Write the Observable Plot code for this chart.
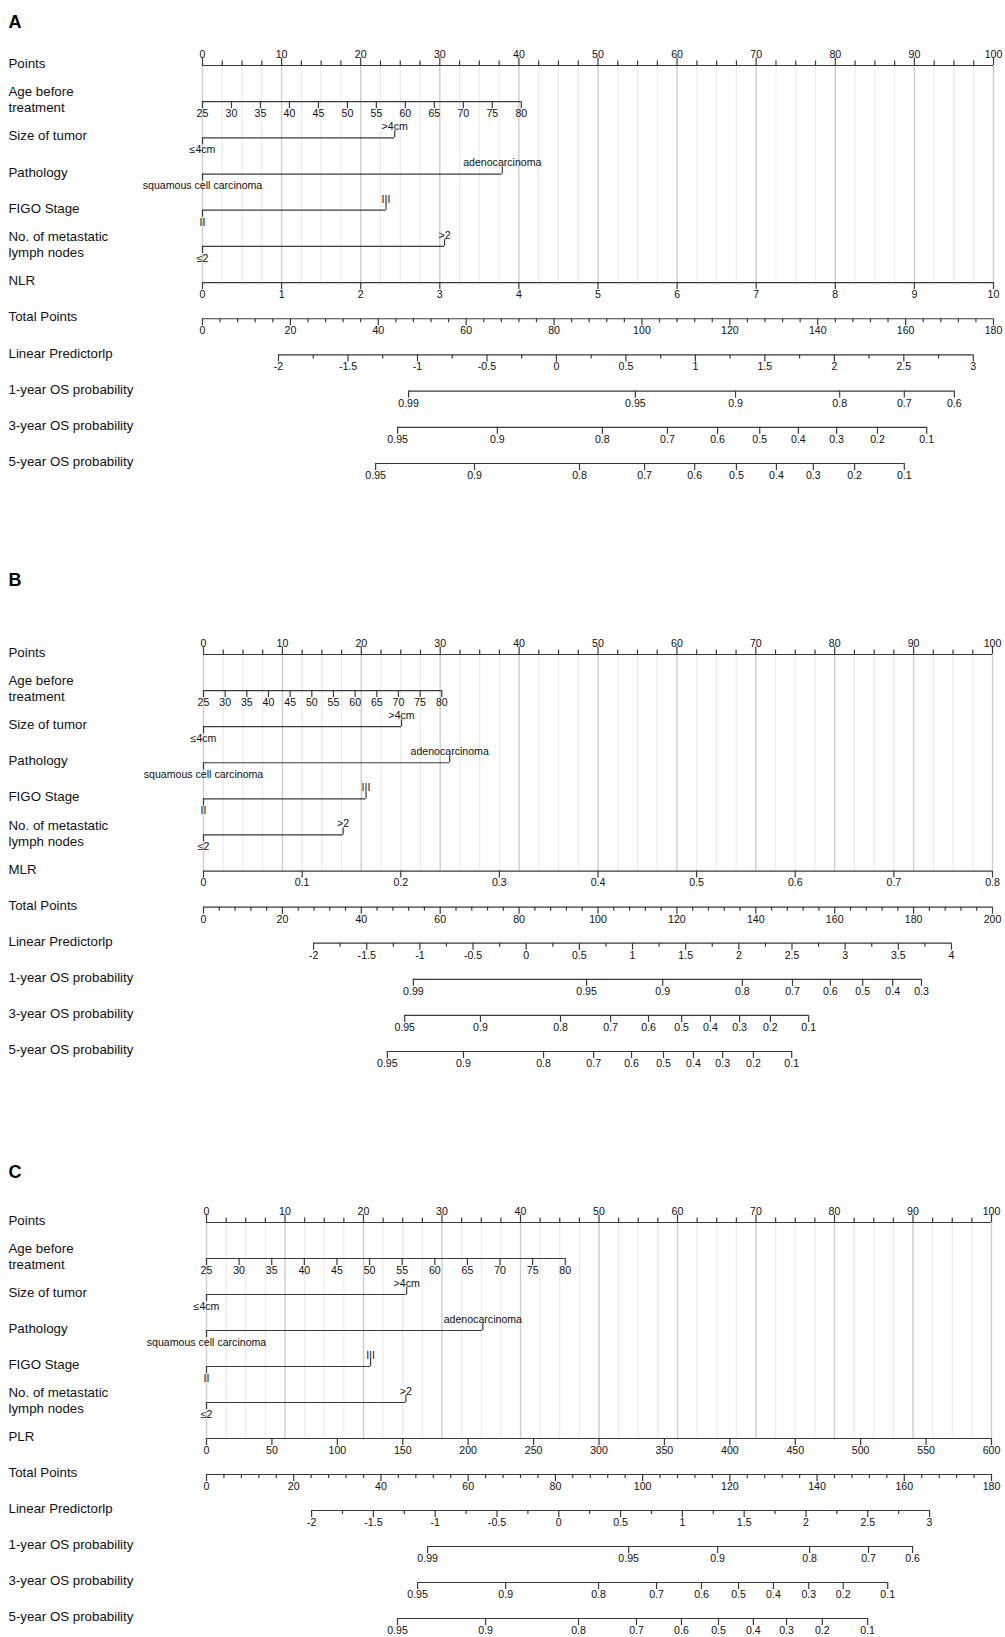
<!DOCTYPE html>
<html>
<head>
<meta charset="utf-8">
<script src="https://cdn.jsdelivr.net/npm/d3@7"></script>
<script src="https://cdn.jsdelivr.net/npm/@observablehq/plot@0.6"></script>
<style>
  html, body { margin: 0; padding: 0; background: #fff; }
  body { width: 1005px; height: 1637px; overflow: hidden; position: relative; font-family: "Liberation Sans", Arial, sans-serif; }
  .panel { position: absolute; left: 0; }
</style>
</head>
<body>
<div id="root"></div>
<script>
// ---------------- data ----------------
const panelLetters = ["A", "B", "C"];
const rowLabelsTop = ["Points", "Age before\ntreatment", "Size of tumor", "Pathology", "FIGO Stage", "No. of metastatic\nlymph nodes"];
const ratioNames = ["NLR", "MLR", "PLR"];
const rowLabelsBottom = ["Total Points", "Linear Predictorlp", "1-year OS probability", "3-year OS probability", "5-year OS probability"];

const pointsTicks = [0, 10, 20, 30, 40, 50, 60, 70, 80, 90, 100];

const ageValues = [25, 30, 35, 40, 45, 50, 55, 60, 65, 70, 75, 80];
const agePointsAtMax = [40.3, 30.2, 45.7];          // points for age 80 (age 25 = 0)

const sizeLevels = ["≤4cm", ">4cm"];
const sizePoints = [[0, 24.3], [0, 25.1], [0, 25.5]];
const pathologyLevels = ["squamous cell carcinoma", "adenocarcinoma"];
const pathologyPoints = [[0, 37.9], [0, 31.2], [0, 35.2]];
const figoLevels = ["II", "III"];
const figoPoints = [[0, 23.2], [0, 20.6], [0, 20.9]];
const nodeLevels = ["≤2", ">2"];
const nodePoints = [[0, 30.6], [0, 17.7], [0, 25.4]];

const ratioTicks = [
  [0, 1, 2, 3, 4, 5, 6, 7, 8, 9, 10],
  [0, 0.1, 0.2, 0.3, 0.4, 0.5, 0.6, 0.7, 0.8],
  [0, 50, 100, 150, 200, 250, 300, 350, 400, 450, 500, 550, 600]
];

const totalPointsTicks = [
  [0, 20, 40, 60, 80, 100, 120, 140, 160, 180],
  [0, 20, 40, 60, 80, 100, 120, 140, 160, 180, 200],
  [0, 20, 40, 60, 80, 100, 120, 140, 160, 180]
];

const lpTicks = [
  [-2, -1.5, -1, -0.5, 0, 0.5, 1, 1.5, 2, 2.5, 3],
  [-2, -1.5, -1, -0.5, 0, 0.5, 1, 1.5, 2, 2.5, 3, 3.5, 4],
  [-2, -1.5, -1, -0.5, 0, 0.5, 1, 1.5, 2, 2.5, 3]
];
// total points at the first and last linear predictor tick
const lpTotalPointsAtEnds = [[17.3, 175.4], [27.9, 189.6], [24.1, 165.8]];

// survival probability tick labels and their total-points positions
const os1Labels = [
  [0.99, 0.95, 0.9, 0.8, 0.7, 0.6],
  [0.99, 0.95, 0.9, 0.8, 0.7, 0.6, 0.5, 0.4, 0.3],
  [0.99, 0.95, 0.9, 0.8, 0.7, 0.6]
];
const os1TotalPoints = [
  [46.9, 98.5, 121.3, 145.0, 159.7, 171.1],
  [53.2, 97.1, 116.4, 136.6, 149.3, 158.9, 167.1, 174.7, 182.0],
  [50.7, 96.8, 117.2, 138.3, 151.8, 161.9]
];
const os3Labels = [0.95, 0.9, 0.8, 0.7, 0.6, 0.5, 0.4, 0.3, 0.2, 0.1];
const os3TotalPoints = [
  [44.4, 67.1, 91.0, 105.8, 117.2, 126.8, 135.6, 144.3, 153.6, 164.8],
  [51.0, 70.2, 90.5, 103.2, 112.8, 121.2, 128.5, 135.9, 143.7, 153.4],
  [48.4, 68.6, 89.9, 103.2, 113.5, 122.0, 130.0, 138.1, 146.0, 156.2]
];
const os5Labels = [0.95, 0.9, 0.8, 0.7, 0.6, 0.5, 0.4, 0.3, 0.2, 0.1];
const os5TotalPoints = [
  [39.4, 61.9, 85.8, 100.6, 112.0, 121.5, 130.6, 139.0, 148.4, 159.7],
  [46.6, 65.9, 86.2, 98.9, 108.5, 116.6, 124.2, 131.6, 139.4, 149.1],
  [43.8, 64.0, 85.3, 98.6, 108.9, 117.4, 125.4, 133.0, 141.2, 151.6]
];

// ---------------- layout ----------------
const layout = [
  {top: 0,    height: 490, mTop: 65, mLeft: 202, mRight: 12, step: 36.18, letterY: 15},
  {top: 555,  height: 522, mTop: 99, mLeft: 203, mRight: 13, step: 36.09, letterY: 18},
  {top: 1148, height: 489, mTop: 74, mLeft: 206, mRight: 14, step: 36.0,  letterY: 17}
];

const AXIS = "#3a3a3a";
const fmt = v => String(v);

function buildPanel(i) {
  const L = layout[i];
  const u = px => px / L.step;
  const lines = [], ticks = [], below = [], above = [];
  const addTick = (x, row, len) => ticks.push({x, y1: row, y2: row + u(len)});

  // Points
  lines.push({row: 0, x1: 0, x2: 100});
  d3.range(0, 100.001, 2.5).forEach(v => addTick(v, 0, v % 10 === 0 ? -7.5 : -4.5));
  pointsTicks.forEach(v => above.push({x: v, row: 0, text: fmt(v)}));

  // Age
  const aMin = d3.min(ageValues), aMax = d3.max(ageValues);
  const agePts = a => (a - aMin) / (aMax - aMin) * agePointsAtMax[i];
  lines.push({row: 1, x1: 0, x2: agePts(aMax)});
  ageValues.forEach(a => { addTick(agePts(a), 1, 7); below.push({x: agePts(a), row: 1, text: fmt(a)}); });

  // categorical
  [[sizeLevels, sizePoints], [pathologyLevels, pathologyPoints], [figoLevels, figoPoints], [nodeLevels, nodePoints]]
    .forEach(([levels, pts], k) => {
      const row = 2 + k, p = pts[i];
      lines.push({row, x1: d3.min(p), x2: d3.max(p)});
      levels.forEach((name, j) => {
        const up = j === 1;
        addTick(p[j], row, up ? -7 : 7);
        (up ? above : below).push({x: p[j], row, text: name});
      });
    });

  // ratio
  const rMax = d3.max(ratioTicks[i]);
  lines.push({row: 6, x1: 0, x2: 100});
  ratioTicks[i].forEach(v => { addTick(v / rMax * 100, 6, 7); below.push({x: v / rMax * 100, row: 6, text: fmt(v)}); });

  // total points
  const tpMax = d3.max(totalPointsTicks[i]);
  const tp = t => t / tpMax * 100;
  lines.push({row: 7, x1: 0, x2: 100});
  d3.range(0, tpMax + 0.001, 4).forEach(v => addTick(tp(v), 7, v % 20 === 0 ? 7 : 4));
  totalPointsTicks[i].forEach(v => below.push({x: tp(v), row: 7, text: fmt(v)}));

  // linear predictor
  const lps = lpTicks[i], lpLo = lps[0], lpHi = lps[lps.length - 1];
  const [tLo, tHi] = lpTotalPointsAtEnds[i];
  const lp = v => tp(tLo + (v - lpLo) / (lpHi - lpLo) * (tHi - tLo));
  lines.push({row: 8, x1: lp(lpLo), x2: lp(lpHi)});
  d3.range(lpLo, lpHi + 0.001, 0.25).forEach(v => addTick(lp(v), 8, (v * 2) % 1 === 0 ? 7 : 4));
  lps.forEach(v => below.push({x: lp(v), row: 8, text: fmt(v)}));

  // survival probabilities
  [[os1Labels[i], os1TotalPoints[i]], [os3Labels, os3TotalPoints[i]], [os5Labels, os5TotalPoints[i]]]
    .forEach(([labs, pos], k) => {
      const row = 9 + k;
      lines.push({row, x1: tp(d3.min(pos)), x2: tp(d3.max(pos))});
      labs.forEach((lab, j) => { addTick(tp(pos[j]), row, 7); below.push({x: tp(pos[j]), row, text: fmt(lab)}); });
    });

  const gridMajor = d3.range(0, 100.001, 10).map(x => ({x, y1: 0, y2: 6}));
  const gridMinor = d3.range(0, 100.001, 2.5).filter(v => v % 10 !== 0).map(x => ({x, y1: 0, y2: 6}));
  const rowLabels = [...rowLabelsTop, ratioNames[i], ...rowLabelsBottom];

  const plot = Plot.plot({
    width: 1005,
    height: L.height,
    marginTop: L.mTop,
    marginLeft: L.mLeft,
    marginRight: L.mRight,
    marginBottom: L.height - L.mTop - 11 * L.step,
    x: {domain: [0, 100], axis: null},
    y: {domain: [0, 11], range: [L.mTop, L.mTop + 11 * L.step], axis: null},
    style: {fontFamily: '"Liberation Sans", Arial, Helvetica, sans-serif', fontSize: "10.6px", color: "#000", background: "#fff", overflow: "visible"},
    marks: [
      Plot.ruleX(gridMinor, {x: "x", y1: "y1", y2: "y2", stroke: "#ececec", strokeWidth: 1.2}),
      Plot.ruleX(gridMajor, {x: "x", y1: "y1", y2: "y2", stroke: "#cdcdcd", strokeWidth: 1.4}),
      Plot.ruleY(lines, {y: "row", x1: "x1", x2: "x2", stroke: AXIS, strokeWidth: 1.2}),
      Plot.ruleX(ticks, {x: "x", y1: "y1", y2: "y2", stroke: AXIS, strokeWidth: 1.2}),
      Plot.text(below, {x: "x", y: "row", text: "text", dy: 12, fontSize: 10.6, fill: "#111"}),
      Plot.text(above, {x: "x", y: "row", text: "text", dy: -11, fontSize: 10.6, fill: "#111"}),
      Plot.text(rowLabels, {y: (d, j) => j, text: d => d, frameAnchor: "left", textAnchor: "start",
        dx: 8 - L.mLeft, dy: -2.5, fontSize: 13.3, lineHeight: 1.2, fill: "#111"}),
      Plot.text([panelLetters[i]], {text: d => d, frameAnchor: "top-left", textAnchor: "start",
        dx: 8 - L.mLeft, dy: L.letterY - L.mTop, fontSize: 18, fontWeight: "bold", fill: "#000"})
    ]
  });
  plot.classList.add("panel");
  plot.style.top = L.top + "px";
  return plot;
}

const root = document.getElementById("root");
panelLetters.forEach((_, i) => root.appendChild(buildPanel(i)));
</script>
</body>
</html>
